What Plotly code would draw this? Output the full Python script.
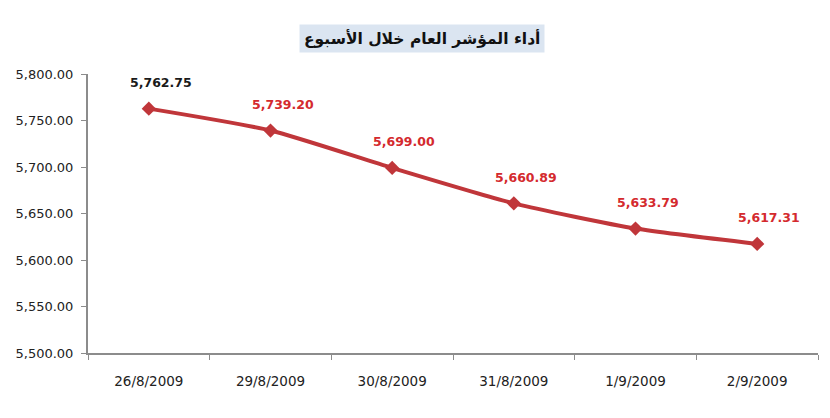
import plotly.graph_objects as go

dates = ["26/8/2009", "29/8/2009", "30/8/2009", "31/8/2009", "1/9/2009", "2/9/2009"]
index_values = [5762.75, 5739.20, 5699.00, 5660.89, 5633.79, 5617.31]
label_colors = ["#1a1a1a", "#d42a2e", "#d42a2e", "#d42a2e", "#d42a2e", "#d42a2e"]
title_text = "أداء المؤشر العام خلال الأسبوع"

fig = go.Figure()
fig.add_trace(go.Scatter(
    x=dates, y=index_values, mode="lines+markers",
    line=dict(color="#c0363a", width=4, shape="spline", smoothing=0.6),
    marker=dict(symbol="diamond", size=11, color="#c0363a"),
    hoverinfo="skip",
))

# data labels above each point
for d, v, c in zip(dates, index_values, label_colors):
    fig.add_annotation(
        x=d, y=v, text="<b>{:,.2f}</b>".format(v), showarrow=False,
        yshift=26, xshift=12, font=dict(size=12.5, color=c, family="DejaVu Sans"),
    )

fig.add_annotation(
    xref="paper", yref="paper", x=(422 - 88) / 730, y=1 + (74 - 38) / 279,
    yanchor="middle", xanchor="center",
    text="<b>" + title_text + "</b>", showarrow=False,
    bgcolor="#dbe5f1", borderpad=4,
    font=dict(size=15.5, color="#111111", family="DejaVu Sans"),
)

fig.update_xaxes(
    type="category", range=[-0.5, 5.5], tickson="boundaries", ticks="outside", ticklen=5,
    tickcolor="#8c8c8c", showline=True, linecolor="#8c8c8c", linewidth=2,
    showgrid=False, automargin=False, ticklabelstandoff=15,
    tickfont=dict(size=13.5, color="#222222", family="DejaVu Sans"),
)
fig.update_yaxes(
    range=[5500, 5800], dtick=50, tickformat=",.2f", ticks="outside", ticklen=5,
    tickcolor="#8c8c8c", showline=True, linecolor="#8c8c8c", linewidth=2,
    showgrid=False, zeroline=False, automargin=False, ticklabelstandoff=5,
    tickfont=dict(size=13, color="#222222", family="DejaVu Sans"),
)

fig.update_layout(
    width=830, height=418, showlegend=False,
    margin=dict(l=88, r=12, t=74, b=65),
    plot_bgcolor="white", paper_bgcolor="white",
)

fig.write_html("out.html", config={"displayModeBar": False},
               post_script="document.body.style.margin='0';")
